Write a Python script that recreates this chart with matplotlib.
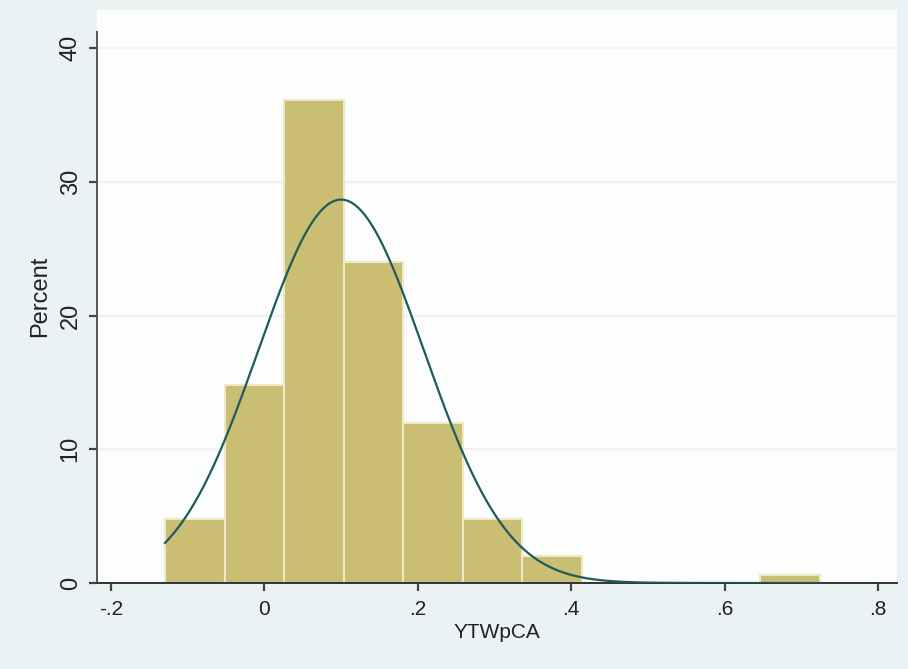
import numpy as np
from matplotlib import pyplot as plt

# histogram of YTWpCA, percent per bin
bin_start = -0.1296
bin_width = 0.0776
percent = [4.8, 14.8, 36.1, 24.0, 12.0, 4.8, 2.0, 0.0, 0.0, 0.0, 0.6]

# fitted normal overlay
fit_mean = 0.100
fit_sd = 0.108

xticks = [-0.2, 0, 0.2, 0.4, 0.6, 0.8]
xticklabels = ["-.2", "0", ".2", ".4", ".6", ".8"]
yticks = [0, 10, 20, 30, 40]

plt.rcParams["font.family"] = ["Liberation Sans", "DejaVu Sans"]

fig = plt.figure(figsize=(9.08, 6.69), dpi=100)
fig.patch.set_facecolor("#EAF2F3")

W, H = 908, 669
left, right, top, bottom = 97, 897, 10, 583
ax = fig.add_axes([left / W, 1 - bottom / H, (right - left) / W, (bottom - top) / H])
ax.set_facecolor("#FCFDFD")

edges = bin_start + bin_width * np.arange(len(percent) + 1)
ax.bar(edges[:-1], percent, width=bin_width, align="edge",
       color="#C9BE72", edgecolor="#ECE8C8", linewidth=1.5, zorder=2)

xs = np.linspace(edges[0], edges[-1], 400)
dens = 100 * bin_width * np.exp(-0.5 * ((xs - fit_mean) / fit_sd) ** 2) / (fit_sd * np.sqrt(2 * np.pi))
ax.plot(xs, dens, color="#1F5A5C", linewidth=1.6, zorder=3)

# axis limits from pixel positions of ticks
px_per_x = 767.0
ax.set_xlim(-0.2 - (111 - left) / px_per_x, 0.8 + (right - 878) / px_per_x)
px_per_y = 13.375
ax.set_ylim(0, 40 + (48 - top) / px_per_y)

for v in yticks[1:]:
    ax.axhline(v, color="#EEF2F2", linewidth=1.6, zorder=1)

for s in ["top", "right"]:
    ax.spines[s].set_visible(False)
ax.spines["left"].set_bounds(0, 40 + (48 - 32) / px_per_y)
ax.spines["left"].set_color("#555555")
ax.spines["bottom"].set_color("#333333")
ax.spines["left"].set_linewidth(1.4)
ax.spines["bottom"].set_linewidth(1.4)

ax.set_xticks(xticks)
ax.set_xticklabels(xticklabels)
ax.set_yticks(yticks)
ax.set_yticklabels([str(v) for v in yticks], rotation=90, va="center")
ax.tick_params(axis="both", direction="out", length=6, width=1.6, color="#444444",
               labelcolor="#222222")
ax.tick_params(axis="x", labelsize=15, pad=6)
ax.tick_params(axis="y", labelsize=17, pad=5)

ax.set_xlabel("YTWpCA", fontsize=15, color="#222222", labelpad=3)
ax.set_ylabel("Percent", fontsize=17, color="#222222", labelpad=6)

fig.savefig("out.png", dpi=100, facecolor=fig.get_facecolor())
